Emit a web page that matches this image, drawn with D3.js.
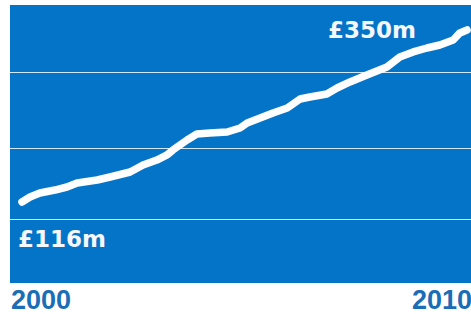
<!DOCTYPE html>
<html>
<head>
<meta charset="utf-8">
<script src="https://cdn.jsdelivr.net/npm/d3@7"></script>
<style>
  html, body { margin: 0; padding: 0; background: #ffffff; overflow: hidden; }
  svg { display: block; }
</style>
</head>
<body>
<div id="chart"></div>
<script>
// Spending over time (£m)
const years = [2000.00, 2000.18, 2000.40, 2000.74, 2001.01, 2001.24, 2001.69, 2001.98,
  2002.43, 2002.72, 2003.03, 2003.26, 2003.39, 2003.71, 2003.93, 2004.22, 2004.61,
  2004.90, 2005.06, 2005.35, 2005.64, 2005.96, 2006.25, 2006.47, 2006.85, 2007.08,
  2007.37, 2007.75, 2008.20, 2008.49, 2008.79, 2009.10, 2009.39, 2009.69, 2009.84, 2010.00];
const values = [116, 122.8, 128.2, 132.3, 136.4, 141.9, 145.9, 150.0,
  156.8, 166.3, 173.1, 180.0, 186.7, 200.4, 208.5, 209.9, 211.2,
  216.7, 223.5, 230.3, 237.1, 243.9, 256.1, 258.9, 263.0, 271.1,
  279.3, 288.8, 299.7, 313.3, 320.1, 325.5, 329.6, 336.4, 346.0, 350];
const gridValues = [93, 190, 293];
const yearLabels = ["2000", "2010"];
const startLabel = "£116m";
const endLabel = "£350m";

const W = 471, H = 314;
const svg = d3.select("#chart").append("svg")
  .attr("width", W)
  .attr("height", H);

const x = d3.scaleLinear().domain([2000, 2010]).range([22, 467]);
const y = d3.scaleLinear().domain([116, 350]).range([202, 30]);

// blue panel
svg.append("rect")
  .attr("x", 10)
  .attr("y", 5)
  .attr("width", W - 10)
  .attr("height", 278)
  .attr("fill", "#0474c8");

// grid lines
svg.selectAll(".grid")
  .data(gridValues)
  .enter()
  .append("line")
  .attr("class", "grid")
  .attr("x1", 10)
  .attr("x2", W)
  .attr("y1", d => Math.round(y(d)) + 0.5)
  .attr("y2", d => Math.round(y(d)) + 0.5)
  .attr("stroke", "#d4e9f7")
  .attr("stroke-width", 1.2);

// the line
const line = d3.line()
  .x((d, i) => x(years[i]))
  .y(d => y(d));

svg.append("path")
  .datum(values)
  .attr("d", line)
  .attr("fill", "none")
  .attr("stroke", "#fefefe")
  .attr("stroke-width", 7.5)
  .attr("stroke-linecap", "round")
  .attr("stroke-linejoin", "round");

// value labels
const labelFont = "DejaVu Sans, sans-serif";
svg.append("text")
  .attr("x", 18)
  .attr("y", 247)
  .attr("fill", "#f4f8fb")
  .style("font-family", labelFont)
  .style("font-weight", "bold")
  .style("font-size", "23px")
  .text(startLabel);

svg.append("text")
  .attr("x", 328)
  .attr("y", 38)
  .attr("fill", "#f4f8fb")
  .style("font-family", labelFont)
  .style("font-weight", "bold")
  .style("font-size", "23px")
  .text(endLabel);

// year labels
svg.append("text")
  .attr("x", 11)
  .attr("y", 309)
  .attr("fill", "#1b6db6")
  .style("font-family", "Liberation Sans, Arial, sans-serif")
  .style("font-weight", "bold")
  .style("font-size", "27px")
  .text(yearLabels[0]);

svg.append("text")
  .attr("x", 472)
  .attr("y", 309)
  .attr("text-anchor", "end")
  .attr("fill", "#1b6db6")
  .style("font-family", "Liberation Sans, Arial, sans-serif")
  .style("font-weight", "bold")
  .style("font-size", "27px")
  .text(yearLabels[1]);
</script>
</body>
</html>
